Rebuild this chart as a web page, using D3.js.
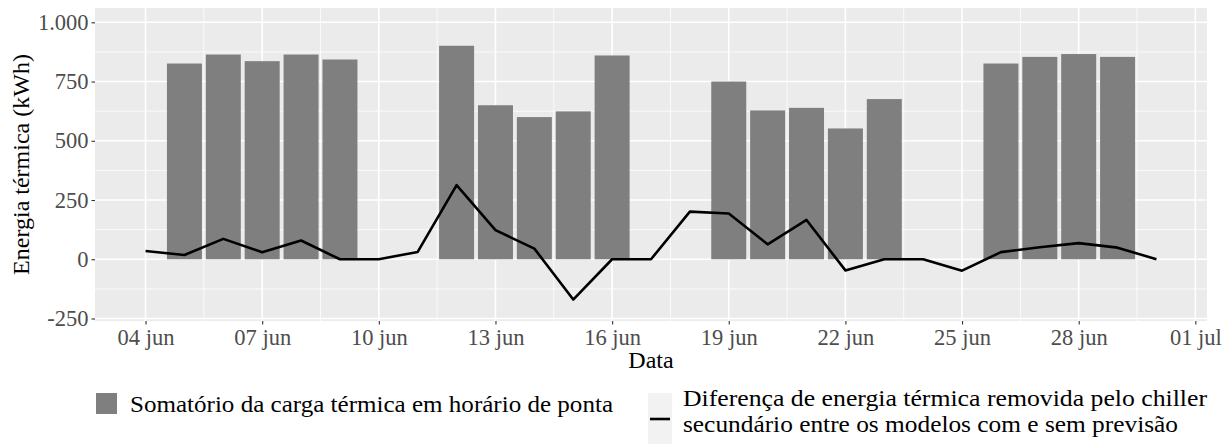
<!DOCTYPE html>
<html>
<head>
<meta charset="utf-8">
<script src="https://cdn.jsdelivr.net/npm/d3@7"></script>
<style>
  html, body { margin: 0; padding: 0; background: #fff; }
  svg { display: block; }
  text { font-family: "Liberation Serif", "DejaVu Serif", serif; }
</style>
</head>
<body>
<svg id="chart" width="1227" height="444"></svg>
<script>
// ---- data ----
const barDates = ["2021-06-05","2021-06-06","2021-06-07","2021-06-08","2021-06-09",
                  "2021-06-12","2021-06-13","2021-06-14","2021-06-15","2021-06-16",
                  "2021-06-19","2021-06-20","2021-06-21","2021-06-22","2021-06-23",
                  "2021-06-26","2021-06-27","2021-06-28","2021-06-29"];
const barValues = [826, 864, 836, 864, 843,
                   901, 650, 600, 624, 860,
                   750, 628, 639, 552, 676,
                   826, 854, 866, 854];
const lineDates = ["2021-06-04","2021-06-05","2021-06-06","2021-06-07","2021-06-08","2021-06-09",
                   "2021-06-10","2021-06-11","2021-06-12","2021-06-13","2021-06-14","2021-06-15",
                   "2021-06-16","2021-06-17","2021-06-18","2021-06-19","2021-06-20","2021-06-21",
                   "2021-06-22","2021-06-23","2021-06-24","2021-06-25","2021-06-26","2021-06-27",
                   "2021-06-28","2021-06-29","2021-06-30"];
const lineValues = [35, 18, 86, 30, 79, 0,
                    0, 31, 313, 123, 45, -170,
                    0, 0, 201, 193, 63, 166,
                    -47, 0, 0, -48, 30, 51,
                    68, 49, 0];
const xTickDates = ["2021-06-04","2021-06-07","2021-06-10","2021-06-13","2021-06-16",
                    "2021-06-19","2021-06-22","2021-06-25","2021-06-28","2021-07-01"];
const xTickLabels = ["04 jun","07 jun","10 jun","13 jun","16 jun","19 jun","22 jun","25 jun","28 jun","01 jul"];
const yTickValues = [-250, 0, 250, 500, 750, 1000];
const yTickLabels = ["-250","0","250","500","750","1.000"];
const yMinorValues = [-125, 125, 375, 625, 875];
const xTitle = "Data";
const yTitle = "Energia térmica (kWh)";
const legendBar = "Somatório da carga térmica em horário de ponta";
const legendLine = ["Diferença de energia térmica removida pelo chiller",
                    "secundário entre os modelos com e sem previsão"];

// ---- layout ----
const DAY = 864e5;
const parse = s => new Date(s + "T00:00:00Z");
const panel = {left: 95, right: 1207, top: 8, bottom: 321};

const svg = d3.select("#chart");

const x = d3.scaleUtc()
  .domain([new Date(+parse("2021-06-04") - 1.3 * DAY), new Date(+parse("2021-06-30") + 1.3 * DAY)])
  .range([panel.left, panel.right]);
const y = d3.scaleLinear().domain([-250, 1000]).range([318.5, 22.3]);

// panel background
svg.append("rect")
  .attr("x", panel.left).attr("y", panel.top)
  .attr("width", panel.right - panel.left).attr("height", panel.bottom - panel.top)
  .attr("fill", "#EBEBEB");

const grid = svg.append("g");
// minor grid
yMinorValues.forEach(v => {
  grid.append("line").attr("x1", panel.left).attr("x2", panel.right)
    .attr("y1", y(v)).attr("y2", y(v)).attr("stroke", "#fff").attr("stroke-width", 0.8);
});
const xMinor = xTickDates.map(d => new Date(+parse(d) + 1.5 * DAY)).filter(d => x(d) < panel.right);
xMinor.push(new Date(+parse("2021-06-04") - 1.5 * DAY));
xMinor.forEach(d => {
  if (x(d) < panel.left) return;
  grid.append("line").attr("y1", panel.top).attr("y2", panel.bottom)
    .attr("x1", x(d)).attr("x2", x(d)).attr("stroke", "#fff").attr("stroke-width", 0.8);
});
// major grid
yTickValues.forEach(v => {
  grid.append("line").attr("x1", panel.left).attr("x2", panel.right)
    .attr("y1", y(v)).attr("y2", y(v)).attr("stroke", "#fff").attr("stroke-width", 1.6);
});
xTickDates.forEach(d => {
  grid.append("line").attr("y1", panel.top).attr("y2", panel.bottom)
    .attr("x1", x(parse(d))).attr("x2", x(parse(d))).attr("stroke", "#fff").attr("stroke-width", 1.6);
});

// bars
const barW = x(new Date(+parse("2021-06-05") + 0.9 * DAY)) - x(parse("2021-06-05"));
svg.append("g").selectAll("rect")
  .data(barDates.map((d, i) => ({d: parse(d), v: barValues[i]})))
  .join("rect")
  .attr("x", p => x(p.d) - barW / 2)
  .attr("width", barW)
  .attr("y", p => y(Math.max(0, p.v)))
  .attr("height", p => Math.abs(y(p.v) - y(0)))
  .attr("fill", "#7F7F7F");

// line
const lineData = lineDates.map((d, i) => ({d: parse(d), v: lineValues[i]}));
svg.append("path")
  .datum(lineData)
  .attr("fill", "none")
  .attr("stroke", "#000")
  .attr("stroke-width", 2.6)
  .attr("stroke-linejoin", "round")
  .attr("d", d3.line().x(p => x(p.d)).y(p => y(p.v)));

// axes
const xAxis = d3.axisBottom(x)
  .tickValues(xTickDates.map(parse))
  .tickFormat((d, i) => xTickLabels[i])
  .tickSizeInner(3.5).tickSizeOuter(0).tickPadding(5);
const gx = svg.append("g").attr("transform", `translate(0,${panel.bottom})`).call(xAxis);
gx.select(".domain").remove();
gx.selectAll("line").attr("stroke", "#333").attr("stroke-width", 1.1);
gx.selectAll("text").attr("fill", "#4D4D4D").style("font-size", "22.5px")
  .style("font-family", "'Liberation Serif', serif");

const yAxis = d3.axisLeft(y)
  .tickValues(yTickValues)
  .tickFormat((d, i) => yTickLabels[i])
  .tickSizeInner(3.5).tickSizeOuter(0).tickPadding(3);
const gy = svg.append("g").attr("transform", `translate(${panel.left},0)`).call(yAxis);
gy.select(".domain").remove();
gy.selectAll("line").attr("stroke", "#333").attr("stroke-width", 1.1);
gy.selectAll("text").attr("fill", "#4D4D4D").style("font-size", "22.5px")
  .style("font-family", "'Liberation Serif', serif");

// axis titles
svg.append("text")
  .attr("x", (panel.left + panel.right) / 2).attr("y", 368)
  .attr("text-anchor", "middle").attr("fill", "#000")
  .style("font-size", "24px").text(xTitle);
svg.append("text")
  .attr("transform", `translate(29,${(panel.top + panel.bottom) / 2}) rotate(-90)`)
  .attr("text-anchor", "middle").attr("fill", "#000")
  .style("font-size", "24px").text(yTitle);

// legend
const lg = svg.append("g");
lg.append("rect").attr("x", 96).attr("y", 393).attr("width", 21).attr("height", 21).attr("fill", "#7F7F7F");
lg.append("text").attr("x", 130).attr("y", 412).attr("fill", "#000")
  .attr("textLength", 483).attr("lengthAdjust", "spacingAndGlyphs")
  .style("font-size", "23px").text(legendBar);

lg.append("rect").attr("x", 648).attr("y", 393).attr("width", 24).attr("height", 51).attr("fill", "#F2F2F2");
lg.append("line").attr("x1", 650).attr("x2", 670).attr("y1", 419).attr("y2", 419)
  .attr("stroke", "#000").attr("stroke-width", 2.6);
const lineLens = [524, 495];
legendLine.forEach((t, i) => {
  lg.append("text").attr("x", 683).attr("y", 406 + i * 25.5).attr("fill", "#000")
    .attr("textLength", lineLens[i]).attr("lengthAdjust", "spacingAndGlyphs")
    .style("font-size", "23px").text(t);
});
</script>
</body>
</html>
